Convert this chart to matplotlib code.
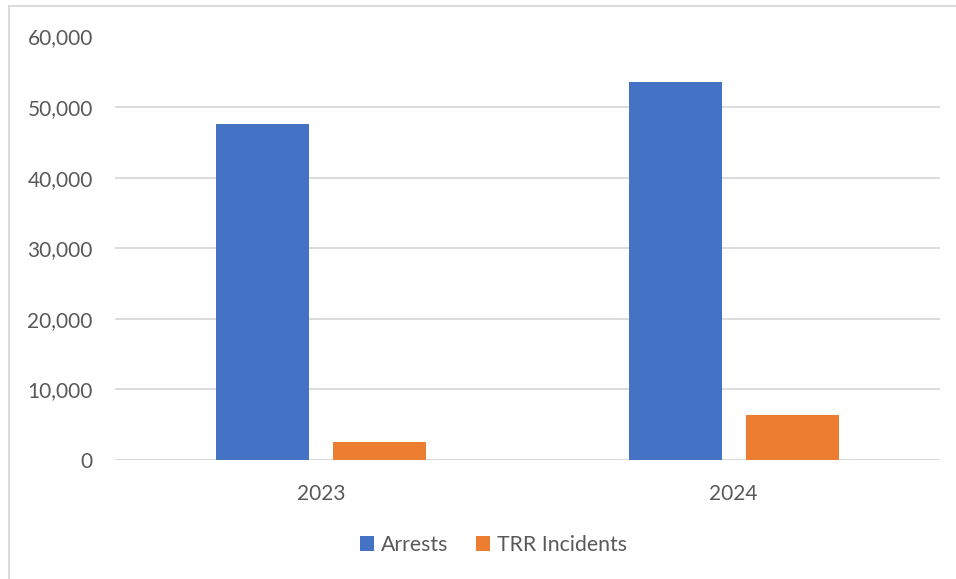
import matplotlib
matplotlib.use("Agg")
import matplotlib.pyplot as plt
from matplotlib.lines import Line2D
from matplotlib.ticker import FuncFormatter

categories = ["2023", "2024"]
arrests = [47600, 53600]
trr_incidents = [2550, 6350]
series_names = ["Arrests", "TRR Incidents"]
colors = ["#4472C4", "#ED7D31"]
y_ticks = [0, 10000, 20000, 30000, 40000, 50000, 60000]

W, H = 956, 579
plt.rcParams['font.family'] = ['Lato', 'DejaVu Sans']
fig = plt.figure(figsize=(W / 100, H / 100), dpi=100)
ax = fig.add_axes([115 / W, 119 / H, (940 - 115) / W, (460 - 36.5) / H])

x = list(range(len(categories)))
bw = 0.2255
off = 0.1424
ax.bar([i - off for i in x], arrests, width=bw, color=colors[0], label=series_names[0], zorder=3)
ax.bar([i + off for i in x], trr_incidents, width=bw, color=colors[1], label=series_names[1], zorder=3)

ax.set_xlim(-0.5, len(categories) - 0.5)
ax.set_ylim(0, 60000)
ax.set_yticks(y_ticks)
ax.yaxis.set_major_formatter(FuncFormatter(lambda v, p: f"{int(v):,}"))
ax.set_xticks(x)
ax.set_xticklabels(categories)
ax.grid(axis='y', color='#D9D9D9', linewidth=1.3, zorder=0)
for s in ax.spines.values():
    s.set_visible(False)
ax.tick_params(axis='both', length=0, labelsize=15, colors='#595959')
ax.tick_params(axis='y', pad=16)
ax.tick_params(axis='x', pad=17)

leg = fig.legend(loc='center', bbox_to_anchor=(493.5 / W, 1 - 545 / H), ncol=2, frameon=False,
                 fontsize=15.3, handlelength=0.65, handleheight=0.65, handletextpad=0.35,
                 columnspacing=1.3, labelcolor='#595959')

# chart frame (cropped on right and bottom)
fig.add_artist(Line2D([9 / W, 1.0], [1 - 6 / H, 1 - 6 / H], color='#D9D9D9', linewidth=1.3, transform=fig.transFigure))
fig.add_artist(Line2D([9 / W, 9 / W], [0, 1 - 6 / H], color='#D9D9D9', linewidth=1.3, transform=fig.transFigure))

fig.savefig("out.png", dpi=100, facecolor='white')
